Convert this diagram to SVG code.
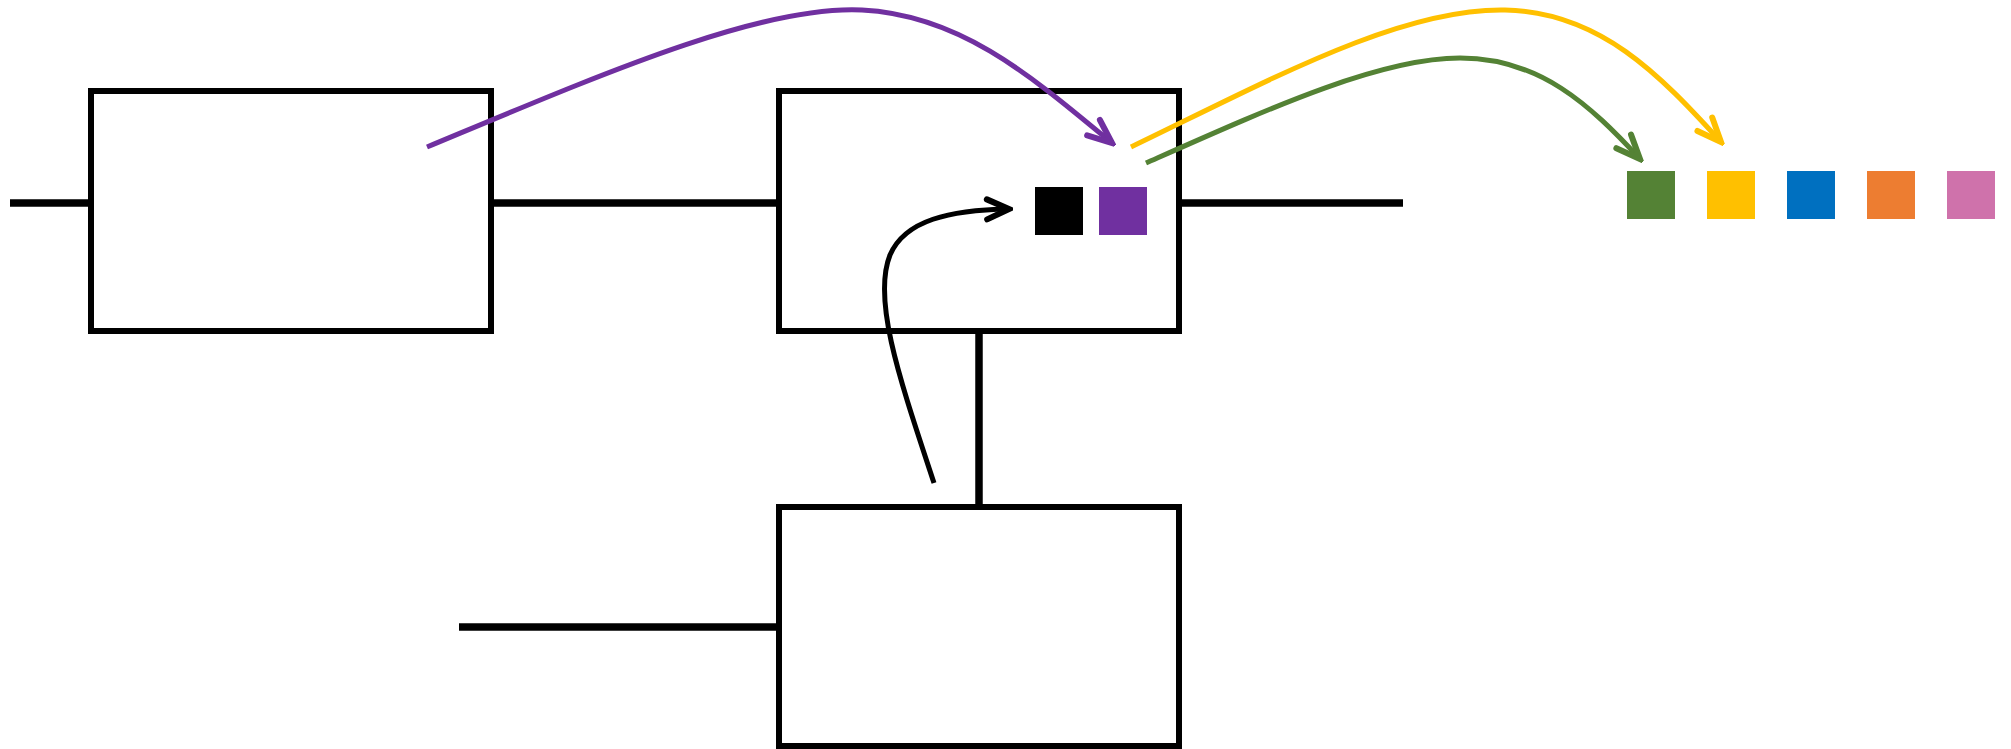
<svg xmlns="http://www.w3.org/2000/svg" width="2011" height="749" viewBox="0 0 2011 749">
<defs>
<style>
.box{fill:#fff;stroke:#000;stroke-width:6}
.wire{stroke:#000;stroke-width:7.5;fill:none}
.arc{fill:none;stroke-width:5;stroke-linecap:butt}
.head{fill:none;stroke-width:6;stroke-linecap:round;stroke-linejoin:miter}
</style>
<marker id="mk-p" viewBox="-30 -15 34 30" refX="0" refY="0" markerWidth="34" markerHeight="30" markerUnits="userSpaceOnUse" orient="auto">
<path class="head" d="M -24 -10 L 0 0 L -24 10" stroke="#7030a0"/>
</marker>
<marker id="mk-y" viewBox="-30 -15 34 30" refX="0" refY="0" markerWidth="34" markerHeight="30" markerUnits="userSpaceOnUse" orient="auto">
<path class="head" d="M -24 -10 L 0 0 L -24 10" stroke="#ffc000"/>
</marker>
<marker id="mk-g" viewBox="-30 -15 34 30" refX="0" refY="0" markerWidth="34" markerHeight="30" markerUnits="userSpaceOnUse" orient="auto">
<path class="head" d="M -24 -10 L 0 0 L -24 10" stroke="#548235"/>
</marker>
<marker id="mk-k" viewBox="-30 -15 34 30" refX="0" refY="0" markerWidth="34" markerHeight="30" markerUnits="userSpaceOnUse" orient="auto">
<path class="head" d="M -22 -10 L 0 0 L -22 10" stroke="#000"/>
</marker>
</defs>
<rect width="2011" height="749" fill="#fff"/>
<g id="connectors">
<line class="wire" x1="10" y1="203" x2="91" y2="203"/>
<line class="wire" x1="491" y1="203" x2="779" y2="203"/>
<line class="wire" x1="1179" y1="203" x2="1403" y2="203"/>
<line class="wire" x1="459" y1="627" x2="779" y2="627"/>
<line class="wire" x1="979" y1="331" x2="979" y2="507"/>
</g>
<g id="node-a"><rect class="box" x="91" y="91" width="400" height="240"/></g>
<g id="node-b"><rect class="box" x="779" y="91" width="400" height="240"/></g>
<g id="node-c"><rect class="box" x="779" y="507" width="400" height="239"/></g>
<g id="tokens">
<rect x="1035" y="187" width="48" height="48" fill="#000"/>
<rect x="1099" y="187" width="48" height="48" fill="#7030a0"/>
<rect x="1627" y="171" width="48" height="48" fill="#548235"/>
<rect x="1707" y="171" width="48" height="48" fill="#ffc000"/>
<rect x="1787" y="171" width="48" height="48" fill="#0070c0"/>
<rect x="1867" y="171" width="48" height="48" fill="#ed7d31"/>
<rect x="1947" y="171" width="48" height="48" fill="#cf72ab"/>
</g>
<g id="arcs">
<path class="arc" stroke="#7030a0" marker-end="url(#mk-p)" d="M 427 147 C 600 75, 760 5, 862 10 C 960 15, 1030 75, 1112 143"/>
<path class="arc" stroke="#ffc000" marker-end="url(#mk-y)" d="M 1131 147 C 1270 80, 1400 8, 1505 10 C 1600 12, 1660 75, 1721 142"/>
<path class="arc" stroke="#548235" marker-end="url(#mk-g)" d="M 1146 163 C 1270 108, 1380 58, 1460 58 C 1540 58, 1590 105, 1640 159"/>
<path class="arc" stroke="#000" stroke-width="4" marker-end="url(#mk-k)" d="M 934 483 C 900 380, 872 300, 890 255 C 905 220, 950 210, 1009 209"/>
</g>
</svg>
